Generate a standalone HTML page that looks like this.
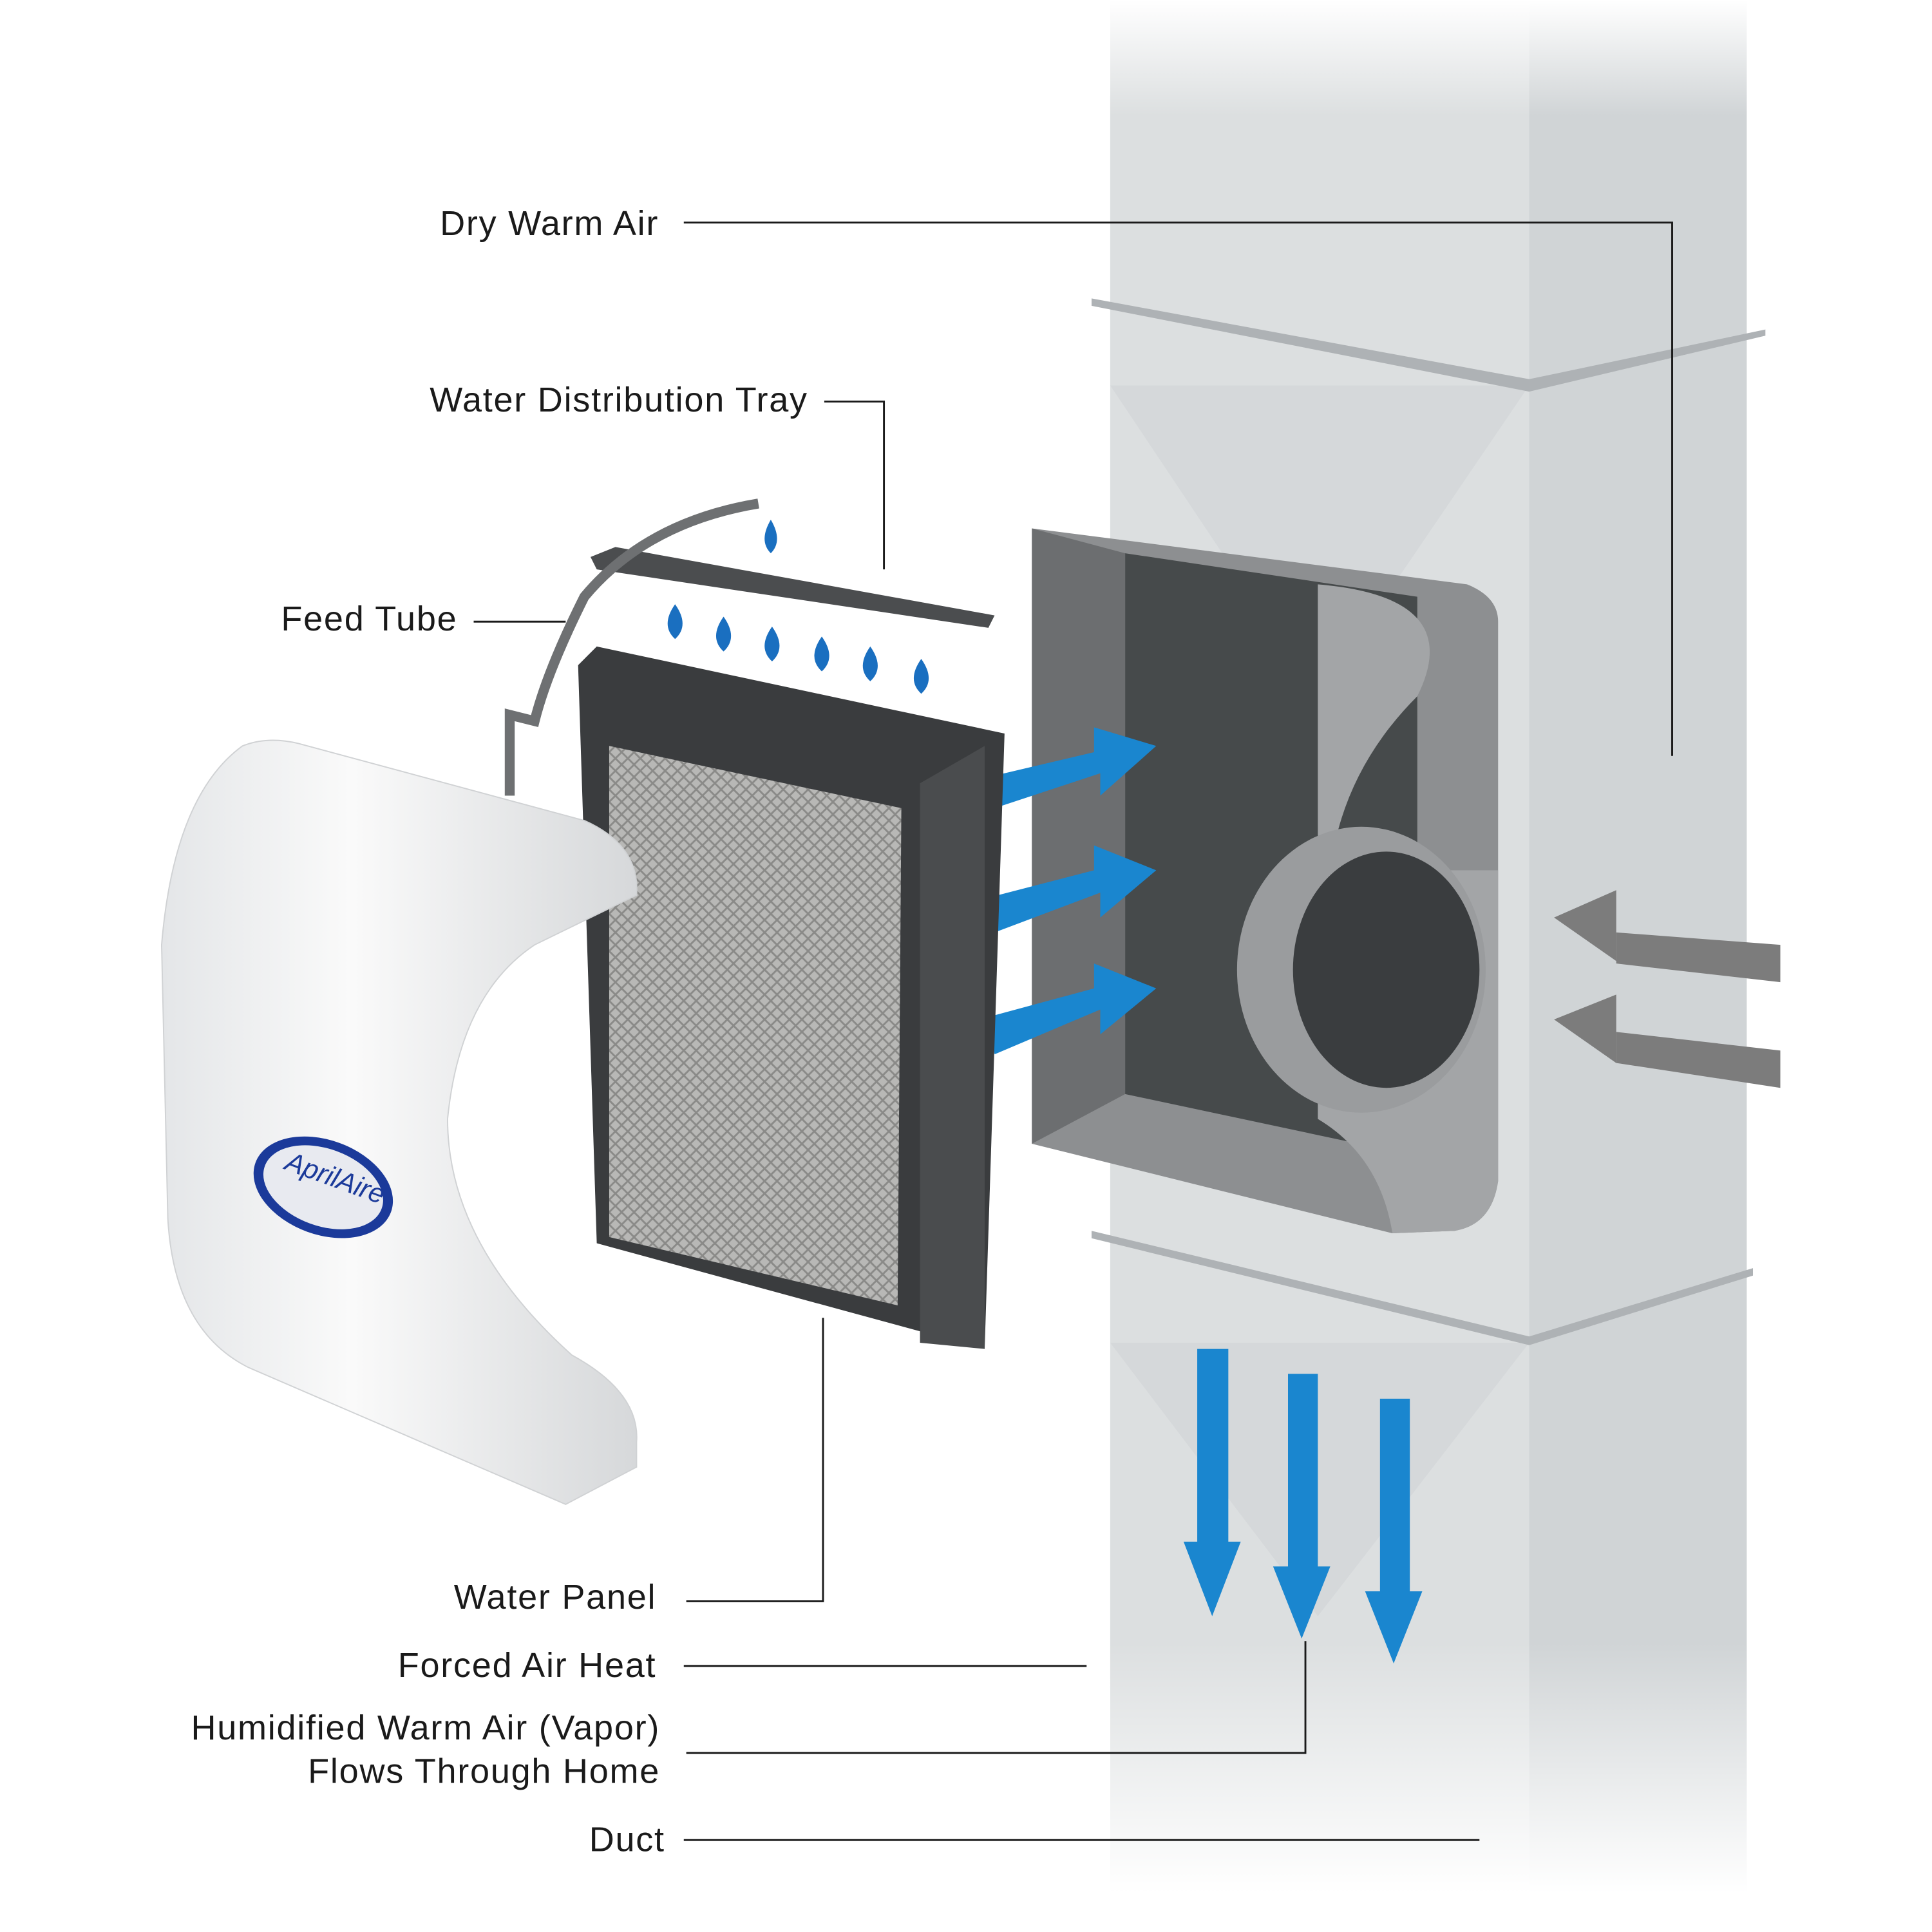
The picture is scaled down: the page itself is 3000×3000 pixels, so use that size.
<!DOCTYPE html>
<html><head><style>html,body{margin:0;padding:0;background:#fff}svg{display:block}</style></head>
<body>
<svg width="3000" height="3000" viewBox="0 0 1554 1554" xmlns="http://www.w3.org/2000/svg" font-family="Liberation Sans, sans-serif">
<defs>
<linearGradient id="fadeV" x1="0" y1="0" x2="0" y2="1">
<stop offset="0" stop-color="#fff" stop-opacity="1"/>
<stop offset="0.06" stop-color="#fff" stop-opacity="0"/>
<stop offset="0.85" stop-color="#fff" stop-opacity="0"/>
<stop offset="0.98" stop-color="#fff" stop-opacity="1"/>
</linearGradient>
<linearGradient id="cover" x1="0" y1="0" x2="1" y2="0">
<stop offset="0" stop-color="#e4e6e8"/><stop offset="0.4" stop-color="#fafafa"/><stop offset="1" stop-color="#d6d8da"/>
</linearGradient>
<pattern id="mesh" width="10" height="10" patternUnits="userSpaceOnUse">
<rect width="10" height="10" fill="#b8b8b6"/><path d="M0 5L5 0L10 5L5 10Z" fill="none" stroke="#8a8a88" stroke-width="1.5"/>
</pattern>
</defs>
<rect x="893" y="0" width="340" height="1554" fill="#dcdfe0"/>
<rect x="1230" y="0" width="175" height="1554" fill="#d0d4d6"/>
<path d="M893 310 L1060 560 L1230 310Z" fill="#d5d8da"/>
<path d="M893 1080 L1060 1300 L1230 1080Z" fill="#d5d8da"/>
<rect x="880" y="0" width="540" height="1554" fill="url(#fadeV)"/>
<path d="M878 240 L1230 305 L1420 265 L1420 270 L1230 315 L878 246Z" fill="#aeb2b5"/>
<path d="M878 990 L1230 1075 L1410 1020 L1410 1026 L1230 1082 L878 996Z" fill="#aeb2b5"/>
<polygon points="1432,760 1432,790 1300,775 1300,750" fill="#7c7c7c"/>
<polygon points="1250,738 1300,716 1300,773" fill="#7c7c7c"/>
<polygon points="1432,845 1432,875 1300,855 1300,830" fill="#7c7c7c"/>
<polygon points="1250,820 1300,800 1300,855" fill="#7c7c7c"/>
<path d="M830 425 L1180 470 Q1205 480 1205 500 L1205 950 Q1200 985 1170 990 L1120 992 L830 920 Z" fill="#8d8f91"/>
<path d="M905 445 L1140 480 L1140 930 L905 880Z" fill="#464a4b"/>
<path d="M1060 470 Q1180 480 1140 560 Q1080 620 1070 700 L1205 700 L1205 950 Q1200 985 1170 990 L1120 992 Q1110 930 1060 900Z" fill="#a3a5a7"/>
<ellipse cx="1095" cy="780" rx="100" ry="115" fill="#9a9c9e"/>
<ellipse cx="1115" cy="780" rx="75" ry="95" fill="#3a3d3f"/>
<path d="M830 425 L905 445 L905 880 L830 920Z" fill="#6c6e70"/>
<g fill="#1a86cf">
<polygon points="795,625 880,605 880,585 930,600 885,640 885,622 800,650"/>
<polygon points="795,722 880,700 880,680 930,700 885,738 885,718 800,750"/>
<polygon points="795,818 880,795 880,775 930,795 885,832 885,812 800,848"/>
</g>
<g fill="#1a86cf">
<polygon points="963,1085 988,1085 988,1240 998,1240 975,1300 952,1240 963,1240"/>
<polygon points="1036,1105 1060,1105 1060,1260 1070,1260 1047,1318 1024,1260 1036,1260"/>
<polygon points="1110,1125 1134,1125 1134,1280 1144,1280 1121,1338 1098,1280 1110,1280"/>
</g>
<path d="M465 535 L480 520 L808 590 L792 1085 L480 1000Z" fill="#3a3c3e"/>
<path d="M490 600 L725 650 L722 1050 L490 995Z" fill="url(#mesh)"/>
<path d="M740 630 L792 600 L792 1085 L740 1080Z" fill="#4a4c4e"/>
<path d="M475 448 L495 440 L800 495 L795 505 L480 458Z" fill="#4b4d4f"/>
<path d="M610 405 Q520 420 470 480 Q440 540 430 580 L410 575 L410 640" fill="none" stroke="#6e7072" stroke-width="8"/>
<g fill="#1a6fc0">
<path d="M620 418 Q630 435 620 445 Q610 435 620 418Z"/>
<path d="M543 486 Q555 503 543 514 Q531 503 543 486Z"/>
<path d="M582 496 Q594 513 582 524 Q570 513 582 496Z"/>
<path d="M621 504 Q633 521 621 532 Q609 521 621 504Z"/>
<path d="M661 512 Q673 529 661 540 Q649 529 661 512Z"/>
<path d="M700 520 Q712 537 700 548 Q688 537 700 520Z"/>
<path d="M741 530 Q753 547 741 558 Q729 547 741 530Z"/>
</g>
<path d="M195 600 Q215 592 240 598 L470 660 Q515 680 512 720 L430 760 Q370 800 360 900 Q360 1000 460 1090 Q515 1120 512 1160 L512 1180 L455 1210 L200 1100 Q140 1070 135 980 L130 760 Q140 640 195 600Z" fill="url(#cover)" stroke="#d0d2d4" stroke-width="1"/>
<ellipse cx="260" cy="955" rx="58" ry="38" transform="rotate(20 260 955)" fill="#1b3a9a"/>
<ellipse cx="260" cy="955" rx="50" ry="31" transform="rotate(20 260 955)" fill="#e8eaf0"/>
<text x="225" y="952" font-size="22" fill="#1b3a9a" transform="rotate(20 260 955)" font-style="italic">AprilAire</text>
<g font-size="28" fill="#1a1a1a" text-anchor="end" letter-spacing="0.9">
<text x="530" y="189">Dry Warm Air</text>
<text x="650" y="331">Water Distribution Tray</text>
<text x="368" y="507">Feed Tube</text>
<text x="528" y="1294">Water Panel</text>
<text x="528" y="1349">Forced Air Heat</text>
<text x="531" y="1399">Humidified Warm Air (Vapor)</text>
<text x="531" y="1434">Flows Through Home</text>
<text x="535" y="1489">Duct</text>
</g>
<g fill="none" stroke="#1a1a1a" stroke-width="1.5">
<polyline points="550,179 1345,179 1345,608"/>
<polyline points="663,323 711,323 711,458"/>
<polyline points="381,500 455,500"/>
<polyline points="552,1288 662,1288 662,1060"/>
<polyline points="550,1340 874,1340"/>
<polyline points="552,1410 1050,1410 1050,1320"/>
<polyline points="550,1480 1190,1480"/>
</g>
</svg>
</body></html>
